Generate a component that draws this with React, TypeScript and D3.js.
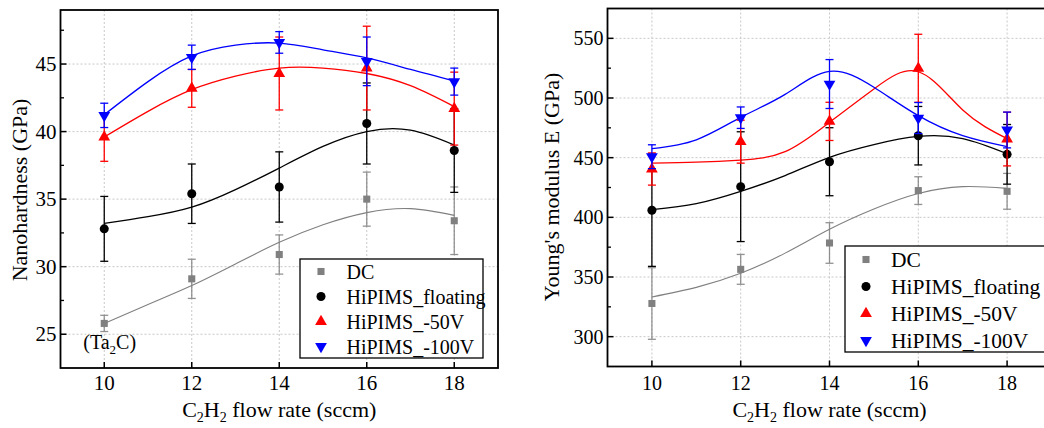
import React, { useEffect, useRef } from 'react';
import * as d3 from 'd3';

// flow rates (sccm) and dense x used for the fitted curves
const flow = [10, 12, 14, 16, 18];
const fitX = [10, 11, 12, 13, 14, 15, 16, 17, 18];

const seriesNames = ['DC', 'HiPIMS_floating', 'HiPIMS_-50V', 'HiPIMS_-100V'];
const seriesColors = ['#808080', '#000000', '#ff0000', '#0000ff'];
const seriesSymbols = ['square', 'circle', 'up', 'down'];

// nanohardness (GPa)
const hardDC = [25.8, 29.1, 30.9, 35.0, 33.4];
const hardDCErr = [0.6, 1.45, 1.45, 2.0, 2.5];
const hardFloat = [32.8, 35.4, 35.9, 40.6, 38.6];
const hardFloatErr = [2.4, 2.2, 2.6, 3.0, 3.1];
const hard50 = [39.6, 43.2, 44.3, 44.7, 41.7];
const hard50Err = [1.8, 1.4, 2.7, 3.1, 2.7];
const hard100 = [41.2, 45.5, 46.6, 45.2, 43.7];
const hard100Err = [0.9, 0.9, 0.8, 1.8, 1.0];

const hardFitDC = [25.8, 27.2, 28.6, 30.2, 31.8, 33.1, 34.0, 34.3, 33.8];
const hardFitFloat = [33.2, 33.7, 34.4, 35.7, 37.3, 38.9, 40.0, 40.1, 39.0];
const hardFit50 = [39.6, 41.5, 43.1, 44.1, 44.7, 44.7, 44.3, 43.4, 41.85];
const hardFit100 = [41.25, 43.7, 45.6, 46.4, 46.55, 46.05, 45.45, 44.6, 43.75];

const hardTicks = [25, 30, 35, 40, 45];
const hardMinor = [27.5, 32.5, 37.5, 42.5, 47.5];

// Young's modulus (GPa)
const modDC = [327.8, 356.4, 378.5, 422.4, 421.8];
const modDCErr = [30, 12.5, 17, 11.6, 15];
const modFloat = [405.9, 425.7, 446.6, 468.4, 452.8];
const modFloatErr = [47, 46, 28.5, 24.5, 25];
const mod50 = [440.5, 463.4, 480.4, 524.9, 465.6];
const mod50Err = [13.5, 18, 16, 28.5, 22.5];
const mod100 = [450.8, 483.5, 511.7, 483.2, 473.2];
const mod100Err = [10, 9, 20.5, 13, 15];

const modFitDC = [333.3, 341.3, 353.1, 370, 390, 407, 420, 425.7, 424.3];
const modFitFloat = [406.4, 411.5, 421.8, 435, 450.3, 461, 467.8, 466, 453.3];
const modFit50 = [445.5, 446.3, 448, 455, 479.6, 507.6, 522, 490, 466];
const modFit100 = [457.5, 465, 483.8, 503, 522.3, 509, 485.2, 468.4, 459.2];

const modTicks = [300, 350, 400, 450, 500, 550];
const modMinor = [325, 375, 425, 475, 525];

const xTicks = [10, 12, 14, 16, 18];

const FONT = '"Liberation Serif", "Times New Roman", serif';

function drawSymbol(g: any, kind: string, cx: number, cy: number, color: string) {
  let type: any = d3.symbolSquare;
  let size = 50;
  let rot = 0;
  if (kind === 'circle') { type = d3.symbolCircle; size = 64; }
  if (kind === 'up') { type = d3.symbolTriangle; size = 60; }
  if (kind === 'down') { type = d3.symbolTriangle; size = 60; rot = 180; }
  g.append('path')
    .attr('d', d3.symbol().type(type).size(size)())
    .attr('transform', `translate(${cx},${cy}) rotate(${rot})`)
    .attr('fill', color);
}

function drawPanel(svg: any, cfg: any) {
  const x = d3.scaleLinear().domain([9, 19]).range([cfg.left, cfg.right]);
  const y = d3.scaleLinear().domain(cfg.yDomain).range([cfg.bottom, cfg.top]);

  const g = svg.append('g');

  // dotted grid
  g.selectAll('.gx').data(xTicks).enter().append('line')
    .attr('x1', (d: number) => x(d)).attr('x2', (d: number) => x(d))
    .attr('y1', cfg.top).attr('y2', cfg.bottom)
    .attr('stroke', '#c8c8c8').attr('stroke-dasharray', '2,2');
  g.selectAll('.gy').data(cfg.yTicks).enter().append('line')
    .attr('x1', cfg.left).attr('x2', cfg.right)
    .attr('y1', (d: number) => y(d)).attr('y2', (d: number) => y(d))
    .attr('stroke', '#c8c8c8').attr('stroke-dasharray', '2,2');

  // fitted curves
  const line = d3.line<number>()
    .x((_d, i) => x(fitX[i]))
    .y((d) => y(d))
    .curve(d3.curveNatural);
  cfg.fits.forEach((f: number[], i: number) => {
    g.append('path')
      .attr('d', line(f))
      .attr('fill', 'none')
      .attr('stroke', seriesColors[i])
      .attr('stroke-width', i === 0 ? 1.1 : 1.3);
  });

  // error bars + markers
  cfg.values.forEach((vals: number[], i: number) => {
    const errs = cfg.errors[i];
    const color = seriesColors[i];
    const eg = g.append('g').attr('stroke', color).attr('stroke-width', 1.3).attr('opacity', i === 0 ? 0.85 : 1);
    vals.forEach((v, k) => {
      const cx = x(flow[k]);
      eg.append('line').attr('x1', cx).attr('x2', cx).attr('y1', y(v - errs[k])).attr('y2', y(v + errs[k]));
      eg.append('line').attr('x1', cx - 4).attr('x2', cx + 4).attr('y1', y(v - errs[k])).attr('y2', y(v - errs[k]));
      eg.append('line').attr('x1', cx - 4).attr('x2', cx + 4).attr('y1', y(v + errs[k])).attr('y2', y(v + errs[k]));
    });
    vals.forEach((v, k) => {
      drawSymbol(g, seriesSymbols[i], x(flow[k]), y(v), color);
    });
  });

  // frame
  g.append('rect')
    .attr('x', cfg.left).attr('y', cfg.top)
    .attr('width', cfg.right - cfg.left).attr('height', cfg.bottom - cfg.top)
    .attr('fill', 'none').attr('stroke', '#000').attr('stroke-width', 1.8);

  // ticks (inward)
  g.selectAll('.tx').data(xTicks).enter().append('line')
    .attr('x1', (d: number) => x(d)).attr('x2', (d: number) => x(d))
    .attr('y1', cfg.bottom).attr('y2', cfg.bottom - 6)
    .attr('stroke', '#000').attr('stroke-width', 1.5);
  g.selectAll('.ty').data(cfg.yTicks).enter().append('line')
    .attr('x1', cfg.left).attr('x2', cfg.left + 6)
    .attr('y1', (d: number) => y(d)).attr('y2', (d: number) => y(d))
    .attr('stroke', '#000').attr('stroke-width', 1.5);
  g.selectAll('.tym').data(cfg.yMinor).enter().append('line')
    .attr('x1', cfg.left).attr('x2', cfg.left + 3.5)
    .attr('y1', (d: number) => y(d)).attr('y2', (d: number) => y(d))
    .attr('stroke', '#000').attr('stroke-width', 1.3);

  // tick labels
  g.selectAll('.lx').data(xTicks).enter().append('text')
    .attr('x', (d: number) => x(d)).attr('y', 390)
    .attr('text-anchor', 'middle')
    .style('font-size', cfg.tickSize + 'px')
    .text((d: number) => d);
  g.selectAll('.ly').data(cfg.yTicks).enter().append('text')
    .attr('x', cfg.left - 4).attr('y', (d: number) => y(d) + 7)
    .attr('text-anchor', 'end')
    .style('font-size', cfg.tickSize + 'px')
    .text((d: number) => d);

  // axis titles
  const xt = g.append('text')
    .attr('x', (x(10) + x(18)) / 2).attr('y', 417)
    .attr('text-anchor', 'middle')
    .style('font-size', '22px');
  xt.append('tspan').text('C');
  xt.append('tspan').attr('dy', 5).style('font-size', '14px').text('2');
  xt.append('tspan').attr('dy', -5).text('H');
  xt.append('tspan').attr('dy', 5).style('font-size', '14px').text('2');
  xt.append('tspan').attr('dy', -5).text(' flow rate (sccm)');

  g.append('text')
    .attr('transform', `translate(${cfg.yTitleX},${cfg.yTitleY}) rotate(-90)`)
    .attr('text-anchor', 'middle')
    .style('font-size', '22px')
    .text(cfg.yTitle);

  // legend
  const lg = g.append('g');
  lg.append('rect')
    .attr('x', cfg.legend.x).attr('y', cfg.legend.y)
    .attr('width', cfg.legend.w).attr('height', cfg.legend.h)
    .attr('fill', '#fff').attr('stroke', '#000').attr('stroke-width', 1.3);
  seriesNames.forEach((name, i) => {
    const ly = cfg.legend.y + cfg.legend.first + i * cfg.legend.step;
    drawSymbol(lg, seriesSymbols[i], cfg.legend.x + cfg.legend.mx, ly, seriesColors[i]);
    lg.append('text')
      .attr('x', cfg.legend.x + cfg.legend.tx).attr('y', ly + 7)
      .style('font-size', cfg.legend.font + 'px')
      .text(name);
  });

  return { x, y, g };
}

export default function App() {
  const ref = useRef<SVGSVGElement>(null);

  useEffect(() => {
    const svg = d3.select(ref.current);
    svg.selectAll('*').remove();

    const left = drawPanel(svg, {
      left: 60.5, right: 498, top: 10, bottom: 368,
      yDomain: [22.5, 49], yTicks: hardTicks, yMinor: hardMinor,
      values: [hardDC, hardFloat, hard50, hard100],
      errors: [hardDCErr, hardFloatErr, hard50Err, hard100Err],
      fits: [hardFitDC, hardFitFloat, hardFit50, hardFit100],
      tickSize: 21,
      yTitle: 'Nanohardness (GPa)', yTitleX: 27, yTitleY: 190,
      legend: { x: 300, y: 259, w: 183, h: 99, first: 12.5, step: 25, mx: 21, tx: 46.5, font: 20 },
    });

    // (Ta2C) annotation
    const ta = left.g.append('text')
      .attr('x', left.x(10) - 21).attr('y', 349)
      .style('font-size', '20px');
    ta.append('tspan').text('(Ta');
    ta.append('tspan').attr('dy', 5).style('font-size', '13px').text('2');
    ta.append('tspan').attr('dy', -5).text('C)');

    drawPanel(svg, {
      left: 607.5, right: 1051.5, top: 8.5, bottom: 366.5,
      yDomain: [275, 575], yTicks: modTicks, yMinor: modMinor,
      values: [modDC, modFloat, mod50, mod100],
      errors: [modDCErr, modFloatErr, mod50Err, mod100Err],
      fits: [modFitDC, modFitFloat, modFit50, modFit100],
      tickSize: 20,
      yTitle: "Young's modulus E (GPa)", yTitleX: 559, yTitleY: 187,
      legend: { x: 845, y: 246, w: 200, h: 106, first: 13.5, step: 27, mx: 21, tx: 46, font: 21.5 },
    });
  }, []);

  return (
    <svg ref={ref} width={1044} height={428} fontFamily={FONT}
      style={{ position: 'absolute', left: 0, top: 0, background: '#fff' }} />
  );
}
